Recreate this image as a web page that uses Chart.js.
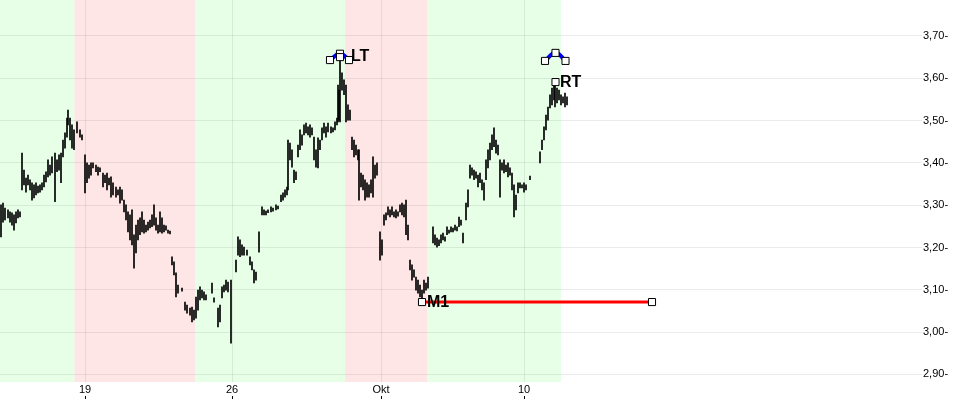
<!DOCTYPE html>
<html>
<head>
<meta charset="utf-8">
<script src="https://cdn.jsdelivr.net/npm/chart.js@4"></script>
<style>
body{margin:0;background:#fff;}
#wrap{width:960px;height:400px;}
</style>
</head>
<body>
<div id="wrap"><canvas id="chart" width="960" height="400"></canvas></div>
<script>
// price bars (high / low), x = trading time index
const barX = [1,3,5,8,10,12,14,16,18,20,
  22,24,26,28,30,32,34,36,38,40,42,44,46,48,50,52,55,57,59,61,63,65,67,68,70,72,74,77,80,82,
  85,87,89,91,93,96,98,100,103,105,107,109,111,113,116,118,120,122,124,126,128,130,132,134,136,138,140,142,144,146,148,150,152,154,156,158,160,162,164,166,168,170,
  172,174,176,178,182,185,187,190,192,194,196,198,200,202,204,206,212,214,218,220,222,224,226,228,231,
  236,238,240,242,244,247,250,252,254,256,259,262,264,266,268,271,273,276,278,281,283,285,287,288,290,292,294,296,298,300,302,304,306,308,310,312,314,316,318,320,322,324,326,328,331,333,335,337,338,339,340,
  342,344,346,348,350,352,354,356,358,359,361,363,365,367,369,371,373,375,377,
  380,382,384,386,388,390,392,394,396,398,400,402,404,406,408,410,412,414,416,418,420,422,424,426,428,
  433,435,437,439,441,443,445,447,449,451,453,455,457,459,461,463,466,468,470,472,474,476,478,480,482,484,486,488,490,492,494,496,498,500,502,504,506,508,510,512,514,516,518,520,522,524,526,530,
  540,542,544,546,548,550,552,554,555,557,559,561,563,565,567];
const barHigh = [3.301,3.305,3.293,3.289,3.284,3.282,3.277,3.284,3.289,3.284,
  3.423,3.383,3.364,3.371,3.360,3.353,3.348,3.353,3.345,3.348,3.353,3.371,3.379,3.407,3.395,3.414,3.423,3.407,3.419,3.423,3.454,3.471,3.506,3.525,3.506,3.490,3.478,3.497,3.478,3.466,
  3.419,3.400,3.395,3.400,3.400,3.395,3.390,3.388,3.376,3.371,3.376,3.364,3.367,3.353,3.343,3.336,3.343,3.336,3.312,3.301,3.284,3.277,3.289,3.230,3.253,3.265,3.270,3.284,3.265,3.253,3.260,3.265,3.277,3.301,3.270,3.253,3.284,3.270,3.253,3.251,3.241,3.239,
  3.178,3.166,3.140,3.111,3.104,3.071,3.064,3.057,3.059,3.052,3.083,3.099,3.107,3.099,3.095,3.088,3.116,3.081,3.057,3.064,3.107,3.111,3.123,3.118,3.123,
  3.170,3.225,3.218,3.206,3.201,3.194,3.178,3.166,3.147,3.142,3.237,3.296,3.289,3.286,3.289,3.296,3.293,3.301,3.298,3.324,3.329,3.336,3.343,3.454,3.447,3.431,3.383,3.379,3.442,3.478,3.466,3.490,3.494,3.485,3.490,3.483,3.461,3.431,3.459,3.454,3.483,3.494,3.485,3.494,3.485,3.483,3.497,3.506,3.584,3.572,3.650,
  3.613,3.596,3.584,3.537,3.525,3.461,3.454,3.442,3.431,3.431,3.376,3.371,3.360,3.353,3.348,3.360,3.414,3.395,3.400,
  3.237,3.218,3.277,3.282,3.296,3.289,3.296,3.284,3.289,3.284,3.301,3.305,3.301,3.312,3.253,3.170,3.159,3.147,3.130,3.123,3.111,3.099,3.123,3.116,3.130,
  3.249,3.230,3.222,3.218,3.230,3.234,3.225,3.249,3.241,3.249,3.246,3.253,3.249,3.272,3.265,3.234,3.305,3.336,3.395,3.388,3.383,3.379,3.371,3.376,3.360,3.353,3.407,3.431,3.447,3.466,3.483,3.454,3.442,3.407,3.400,3.407,3.395,3.400,3.388,3.376,3.348,3.324,3.353,3.353,3.348,3.353,3.348,3.369,
  3.426,3.454,3.485,3.513,3.532,3.561,3.577,3.584,3.591,3.577,3.572,3.561,3.556,3.565,3.556];
const barLow = [3.225,3.260,3.265,3.270,3.260,3.253,3.241,3.258,3.270,3.272,
  3.336,3.348,3.331,3.348,3.336,3.312,3.317,3.324,3.329,3.331,3.336,3.343,3.355,3.367,3.371,3.376,3.308,3.379,3.383,3.353,3.414,3.435,3.461,3.490,3.454,3.435,3.431,3.471,3.461,3.454,
  3.329,3.353,3.364,3.371,3.388,3.379,3.371,3.379,3.343,3.353,3.336,3.348,3.319,3.324,3.319,3.324,3.305,3.312,3.284,3.265,3.237,3.218,3.206,3.151,3.187,3.218,3.230,3.237,3.234,3.237,3.241,3.246,3.249,3.253,3.241,3.234,3.237,3.234,3.237,3.241,3.234,3.232,
  3.159,3.135,3.083,3.092,3.097,3.052,3.045,3.040,3.024,3.029,3.033,3.052,3.076,3.081,3.076,3.076,3.092,3.071,3.012,3.024,3.081,3.095,3.099,3.095,2.974,
  3.142,3.182,3.178,3.182,3.182,3.182,3.159,3.147,3.116,3.123,3.189,3.277,3.277,3.277,3.282,3.284,3.286,3.289,3.291,3.308,3.312,3.319,3.324,3.336,3.407,3.390,3.353,3.360,3.414,3.431,3.442,3.466,3.471,3.466,3.461,3.466,3.407,3.390,3.388,3.431,3.454,3.471,3.461,3.473,3.471,3.473,3.478,3.490,3.497,3.501,3.497,
  3.572,3.561,3.497,3.501,3.501,3.431,3.414,3.419,3.407,3.312,3.343,3.336,3.312,3.319,3.319,3.329,3.319,3.364,3.371,
  3.170,3.182,3.253,3.265,3.277,3.272,3.277,3.272,3.270,3.274,3.284,3.277,3.272,3.230,3.218,3.147,3.123,3.130,3.099,3.092,3.083,3.071,3.092,3.099,3.104,
  3.211,3.206,3.201,3.204,3.211,3.218,3.215,3.230,3.234,3.237,3.237,3.241,3.239,3.249,3.253,3.211,3.265,3.296,3.364,3.371,3.360,3.364,3.343,3.353,3.336,3.312,3.360,3.388,3.407,3.431,3.438,3.423,3.419,3.319,3.383,3.376,3.379,3.367,3.371,3.336,3.272,3.289,3.329,3.341,3.341,3.331,3.336,3.360,
  3.400,3.431,3.454,3.478,3.501,3.530,3.537,3.549,3.532,3.542,3.549,3.537,3.542,3.532,3.537];

// axis ticks
const xTickPos = [85,232,381,524];
const xTickLabels = ["19","26","Okt","10"];
const yTicks = [2.9,3.0,3.1,3.2,3.3,3.4,3.5,3.6,3.7];

// background trend zones
const bandFrom = [0,74.5,195,345,427];
const bandTo = [74.5,195,345,427,561];
const bandUp = [true,false,true,false,true];

// drawn objects
const m1X = [422,652];
const m1Y = [3.071,3.071];
const ltArcX = [330,340,349];
const ltArcY = [3.643,3.658,3.643];
const rtArcX = [545,555.5,565.5];
const rtArcY = [3.641,3.660,3.641];
const markX = [340,555.5];
const markY = [3.650,3.591];
const labelText = ["M1","LT","RT"];
const labelX = [427,351,560];
const labelY = [3.071,3.653,3.591];

const FONT = "'Liberation Sans', Arial, sans-serif";
const gridCol = "rgba(0,0,0,0.08)";

let n = Math.min(barX.length, barHigh.length, barLow.length);
let bars = [];
for (let i = 0; i < n; i++) bars.push({x: barX[i], y: [barLow[i], barHigh[i]]});

function pts(xs, ys) {
  return xs.map((x, i) => ({x: x, y: ys[i]}));
}

const squarePts = {
  pointStyle: "rect",
  pointRadius: 5,
  pointBackgroundColor: "#fff",
  pointBorderColor: "#000",
  pointBorderWidth: 1
};

function noPad(s) {
  s.paddingLeft = 0;
  s.paddingRight = 0;
  s.paddingTop = 0;
  s.paddingBottom = 0;
}

const bgPlugin = {
  id: "bands",
  beforeDraw(chart) {
    let ctx = chart.ctx, a = chart.chartArea, xs = chart.scales.x;
    ctx.save();
    ctx.fillStyle = "#fff";
    ctx.fillRect(0, 0, chart.width, chart.height);
    for (let i = 0; i < bandFrom.length; i++) {
      let x0 = xs.getPixelForValue(bandFrom[i]);
      let x1 = xs.getPixelForValue(bandTo[i]);
      ctx.fillStyle = bandUp[i] ? "#e6ffe6" : "#ffe6e6";
      ctx.fillRect(x0, a.top, x1 - x0, a.bottom - a.top);
    }
    ctx.restore();
  },
  afterDatasetsDraw(chart) {
    let ctx = chart.ctx, xs = chart.scales.x, ys = chart.scales.y;
    ctx.save();
    ctx.fillStyle = "#000";
    ctx.font = "bold 16px " + FONT;
    ctx.textBaseline = "middle";
    ctx.textAlign = "left";
    for (let i = 0; i < labelText.length; i++) {
      ctx.fillText(labelText[i], xs.getPixelForValue(labelX[i]), ys.getPixelForValue(labelY[i]) + 1);
    }
    ctx.restore();
  },
  afterDraw(chart) {
    // little tick marks under the date labels
    let ctx = chart.ctx, xs = chart.scales.x;
    ctx.save();
    ctx.strokeStyle = "#000";
    ctx.lineWidth = 1;
    ctx.beginPath();
    xTickPos.forEach(v => {
      let px = Math.round(xs.getPixelForValue(v)) + 0.5;
      ctx.moveTo(px, 396);
      ctx.lineTo(px, 399);
    });
    ctx.stroke();
    ctx.restore();
  }
};

const chartX = document.getElementById("chart").getContext("2d");
const config = new Chart(chartX, {
  type: "bar",
  data: {
    datasets: [
      Object.assign({type: "line", data: pts(markX, markY), showLine: false, order: 1}, squarePts),
      Object.assign({type: "line", data: pts(ltArcX, ltArcY), borderColor: "#0000ff", borderWidth: 4, tension: 0.5, order: 2}, squarePts),
      Object.assign({type: "line", data: pts(rtArcX, rtArcY), borderColor: "#0000ff", borderWidth: 4, tension: 0.5, order: 2}, squarePts),
      Object.assign({type: "line", data: pts(m1X, m1Y), borderColor: "#ff0000", borderWidth: 3, order: 3}, squarePts),
      {type: "bar", data: bars, backgroundColor: "#000", barThickness: 1, order: 10}
    ]
  },
  options: {
    responsive: false,
    animation: false,
    layout: {padding: 0, autoPadding: false},
    plugins: {legend: {display: false}, tooltip: {enabled: false}},
    scales: {
      x: {
        type: "linear",
        min: 0,
        max: 922,
        offset: false,
        grid: {color: gridCol, drawTicks: false, offset: false},
        border: {display: false},
        afterBuildTicks: s => { s.ticks = xTickPos.map(v => ({value: v})); },
        afterFit: s => { s.height = 18; noPad(s); },
        ticks: {
          padding: 1,
          maxRotation: 0,
          autoSkip: false,
          color: "#000",
          font: {family: FONT, size: 11},
          callback: v => xTickLabels[xTickPos.indexOf(v)]
        }
      },
      y: {
        type: "linear",
        position: "right",
        min: 2.882,
        max: 3.785,
        grid: {color: gridCol, drawTicks: false, offset: false},
        border: {display: false},
        afterBuildTicks: s => { s.ticks = yTicks.map(v => ({value: v})); },
        afterFit: s => { s.width = 38; noPad(s); },
        ticks: {
          padding: 1,
          color: "#000",
          font: {family: FONT, size: 11},
          callback: v => v.toFixed(2).replace(".", ",") + "-"
        }
      }
    }
  },
  plugins: [bgPlugin]
});
</script>
</body>
</html>
